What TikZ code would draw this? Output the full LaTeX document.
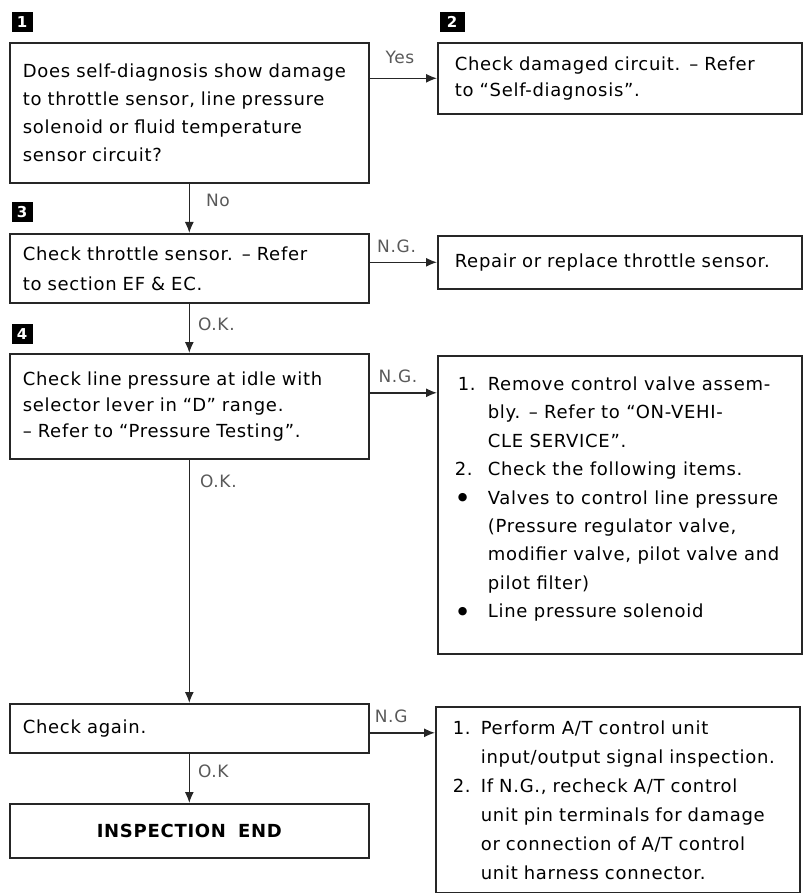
\documentclass[tikz,border=0pt]{standalone}
\usepackage{fontspec}
\setmainfont{DejaVu Sans}[LetterSpace=4]
\usetikzlibrary{arrows.meta}
\newcommand{\numcol}[2][33pt]{\makebox[#1][l]{#2}}
\newcommand{\dotitem}{\hspace{3pt}\raisebox{3.5pt}{\fontsize{11}{11}\selectfont ●}}

\begin{document}
\begin{tikzpicture}[x=1pt,y=-1pt,
  box/.style={draw=black!85,line width=1.6pt,anchor=north west,align=left,inner ysep=0pt,font=\fontsize{18}{28}\selectfont},
  lbox/.style={box,inner xsep=13pt,text width=333pt},
  rbox/.style={box,inner xsep=17pt,text width=330pt},
  badge/.style={fill=black,text=white,font=\bfseries\fontsize{15}{15}\selectfont,minimum width=21pt,minimum height=20pt,inner sep=0pt},
  lbl/.style={font=\fontsize{17}{17}\selectfont,text=black!65,inner sep=2pt},
  arr/.style={draw=black!85,line width=1.4pt,-{Latex[length=11pt,width=9pt]}}]
\useasboundingbox (0,0) rectangle (809,893);
\node[badge] (n1) at (22,22) {1};
\node[lbox,minimum height=140pt] (q1) at (9,42) {Does self-diagnosis show damage\\to throttle sensor, line pressure\\solenoid or fluid temperature\\sensor circuit?};
\node[badge,minimum width=25pt] (n2) at (452,22) {2};
\node[rbox,minimum height=71pt,font=\fontsize{18}{26}\selectfont] (ck2) at (437,42) {Check damaged circuit. \textendash{} Refer\\to “Self-diagnosis”.};
\node[badge] (n3) at (22,212) {3};
\node[lbox,minimum height=69pt,font=\fontsize{18}{30}\selectfont] (ck3) at (9,233) {Check throttle sensor. \textendash{} Refer\\to section EF \& EC.};
\node[rbox,minimum height=53pt] (rep) at (437,235) {Repair or replace throttle sensor.};
\node[badge] (n4) at (22,334) {4};
\node[lbox,minimum height=105pt,font=\fontsize{18}{26}\selectfont] (q4) at (9,353) {Check line pressure at idle with\\selector lever in “D” range.\\\textendash{} Refer to “Pressure Testing”.};
\node[box,inner xsep=17pt,inner ysep=21pt,font=\fontsize{18}{28.4}\selectfont] (fix4) at (437,355) {\begin{minipage}[t][256pt][t]{330pt}
\numcol{\hspace{3pt}1.}Remove control valve assem-\\
\numcol{}bly. \textendash{} Refer to “ON-VEHI-\\
\numcol{}CLE SERVICE”.\\
\numcol{2.}Check the following items.\\
\numcol{\dotitem}Valves to control line pressure\\
\numcol{}(Pressure regulator valve,\\
\numcol{}modifier valve, pilot valve and\\
\numcol{}pilot filter)\\
\numcol{\dotitem}Line pressure solenoid
\end{minipage}};
\node[lbox,minimum height=49pt] (again) at (9,703) {Check again.};
\node[rbox,minimum height=186pt,font=\fontsize{18}{29}\selectfont] (fix5) at (435,706) {\numcol[28pt]{1.}Perform A/T control unit\\
\numcol[28pt]{}input/output signal inspection.\\
\numcol[28pt]{2.}If N.G., recheck A/T control\\
\numcol[28pt]{}unit pin terminals for damage\\
\numcol[28pt]{}or connection of A/T control\\
\numcol[28pt]{}unit harness connector.};
\node[lbox,minimum height=54pt,align=center,font=\bfseries\fontsize{18}{28}\selectfont] (done) at (9,803) {INSPECTION\hspace{12pt}END};
\draw[arr] (q1.east |- ck2.west) -- node[lbl,above=12pt,pos=.45] {Yes} (ck2.west);
\draw[arr] (q1) -- node[lbl,right=14pt,pos=.35] {No} (ck3);
\draw[arr] (ck3.east |- rep.west) -- node[lbl,above=7pt,pos=.4] {N.G.} (rep.west);
\draw[arr] (ck3) -- node[lbl,right=6pt,pos=.41] {O.K.} (q4);
\draw[arr] ([yshift=13.5pt]q4.east) -- node[lbl,above=7pt,pos=.42] {N.G.} ([yshift=13.5pt]q4.east -| fix4.west);
\draw[arr] (q4) -- node[lbl,right=8pt,pos=.09] {O.K.} (again);
\draw[arr] ([yshift=-4.5pt]again.east) -- node[lbl,above=7pt,pos=.33] {N.G} ([yshift=-4.5pt]again.east -| fix5.west);
\draw[arr] (again) -- node[lbl,right=6pt,pos=.35] {O.K} (done);
\end{tikzpicture}
\end{document}
